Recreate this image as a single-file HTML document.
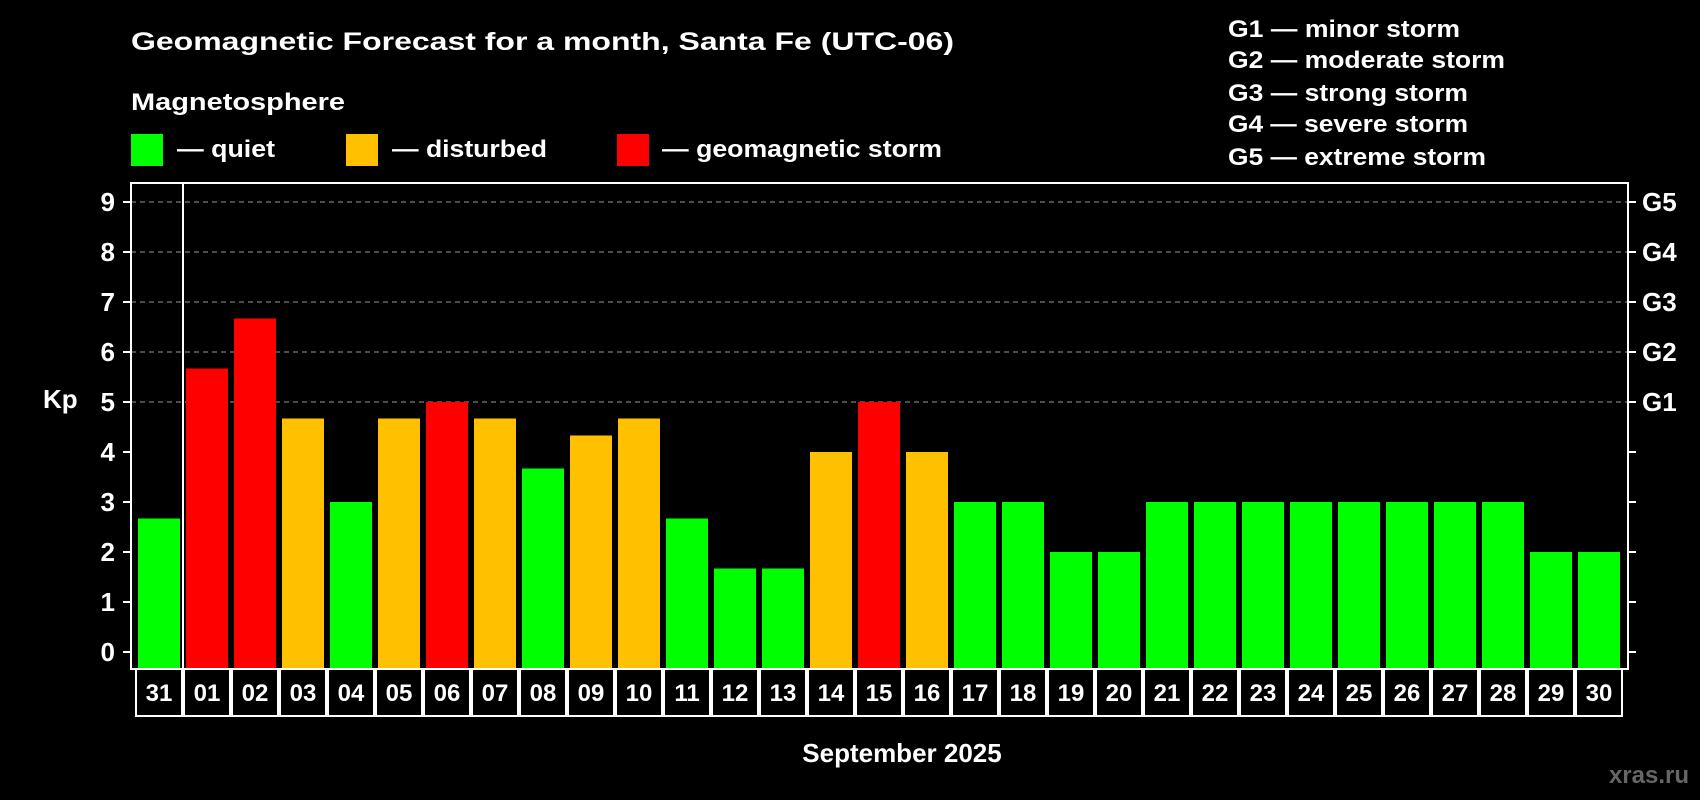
<!DOCTYPE html>
<html><head><meta charset="utf-8"><style>
html,body{margin:0;padding:0;background:#000;}
svg{display:block;font-family:"Liberation Sans",Arial,sans-serif;font-weight:bold;}
</style></head><body>
<svg id="chart" width="1700" height="800" viewBox="0 0 1700 800">
<rect x="0" y="0" width="1700" height="800" fill="#000"/>
<text x="131" y="50" fill="#fff" font-size="25" textLength="823" lengthAdjust="spacingAndGlyphs">Geomagnetic Forecast for a month, Santa Fe (UTC-06)</text>
<text x="131" y="110" fill="#fff" font-size="24" textLength="214" lengthAdjust="spacingAndGlyphs">Magnetosphere</text>
<g><rect x="131" y="134" width="32" height="32" fill="#00ff00"/><text x="177" y="157" fill="#fff" font-size="24" textLength="98" lengthAdjust="spacingAndGlyphs">— quiet</text></g>
<g><rect x="346" y="134" width="32" height="32" fill="#ffc000"/><text x="392" y="157" fill="#fff" font-size="24" textLength="155" lengthAdjust="spacingAndGlyphs">— disturbed</text></g>
<g><rect x="617" y="134" width="32" height="32" fill="#ff0000"/><text x="662" y="157" fill="#fff" font-size="24" textLength="280" lengthAdjust="spacingAndGlyphs">— geomagnetic storm</text></g>
<g fill="#fff" font-size="24">
<text x="1228" y="37" textLength="232" lengthAdjust="spacingAndGlyphs">G1 — minor storm</text>
<text x="1228" y="68" textLength="277" lengthAdjust="spacingAndGlyphs">G2 — moderate storm</text>
<text x="1228" y="101" textLength="240" lengthAdjust="spacingAndGlyphs">G3 — strong storm</text>
<text x="1228" y="132" textLength="240" lengthAdjust="spacingAndGlyphs">G4 — severe storm</text>
<text x="1228" y="165" textLength="258" lengthAdjust="spacingAndGlyphs">G5 — extreme storm</text>
</g>
<g id="plot"></g>
<text x="43" y="408" fill="#fff" font-size="26">Kp</text>
<text x="902" y="762" fill="#fff" font-size="26" text-anchor="middle">September 2025</text>
<text x="1689" y="783" fill="#666" font-size="24" text-anchor="end">xras.ru</text>
</svg>
<script>
const days = ["31","01","02","03","04","05","06","07","08","09","10","11","12","13","14","15","16","17","18","19","20","21","22","23","24","25","26","27","28","29","30"];
const kpValues = [2.67,5.67,6.67,4.67,3,4.67,5,4.67,3.67,4.33,4.67,2.67,1.67,1.67,4,5,4,3,3,2,2,3,3,3,3,3,3,3,3,2,2];
const yTicks = [0,1,2,3,4,5,6,7,8,9];
const gLabels = ["G1","G2","G3","G4","G5"];
const gLevels = [5,6,7,8,9];

const NS="http://www.w3.org/2000/svg";
const L=131,R=1628,T=183,B=669;
const y0=652,unit=50;
function yS(v){return y0-v*unit;}
const x0=138,pitch=(1578-138)/(days.length-1),bw=42;
function xS(i){return x0+i*pitch;}
function color(v){return v>=5?"#ff0000":(v>=4?"#ffc000":"#00ff00");}
const g=document.getElementById('plot');
function mk(tag,attrs,parent){const e=document.createElementNS(NS,tag);for(const k in attrs)e.setAttribute(k,attrs[k]);(parent||g).appendChild(e);return e;}

// grid
gLevels.forEach(v=>{
  const l=mk('line',{x1:L,x2:R,y1:yS(v),y2:yS(v),stroke:'#999','stroke-width':1,'stroke-dasharray':'5,4'});
  
  
});
// bars
kpValues.forEach((v,i)=>{
  const r=mk('rect',{x:xS(i),y:yS(v),width:bw,height:B-yS(v),fill:color(v)});
  
  
});
// frame
const fr=mk('rect',{x:L,y:T,width:R-L,height:B-T,fill:'none',stroke:'#fff','stroke-width':2});


const sep=mk('line',{x1:xS(1)-3,x2:xS(1)-3,y1:T,y2:B,stroke:'#fff','stroke-width':2});


// y ticks
yTicks.forEach(v=>{
  mk('line',{x1:L-8,x2:L,y1:yS(v),y2:yS(v),stroke:'#fff','stroke-width':2});
  mk('line',{x1:R,x2:R+8,y1:yS(v),y2:yS(v),stroke:'#fff','stroke-width':2});
  const t=mk('text',{x:115,y:yS(v)+9,fill:'#fff','font-size':26,'text-anchor':'end'});
  t.textContent=v;
  
  
});
gLabels.forEach((s,i)=>{
  const t=mk('text',{x:1642,y:yS(gLevels[i])+9,fill:'#fff','font-size':26});
  t.textContent=s;
  
  
});
// date boxes
const bt=B,bb=716;
days.forEach((d,i)=>{
  const cx=xS(i)+bw/2;
  const left=cx-pitch/2,right=cx+pitch/2;
  const r=mk('rect',{x:left+1,y:bt,width:pitch-2,height:bb-bt,fill:'none',stroke:'#fff','stroke-width':2});
  
  
  const t=mk('text',{x:cx,y:701,fill:'#fff','font-size':24,'text-anchor':'middle'});
  t.textContent=d;
  
  
});
</script>
</body></html>
